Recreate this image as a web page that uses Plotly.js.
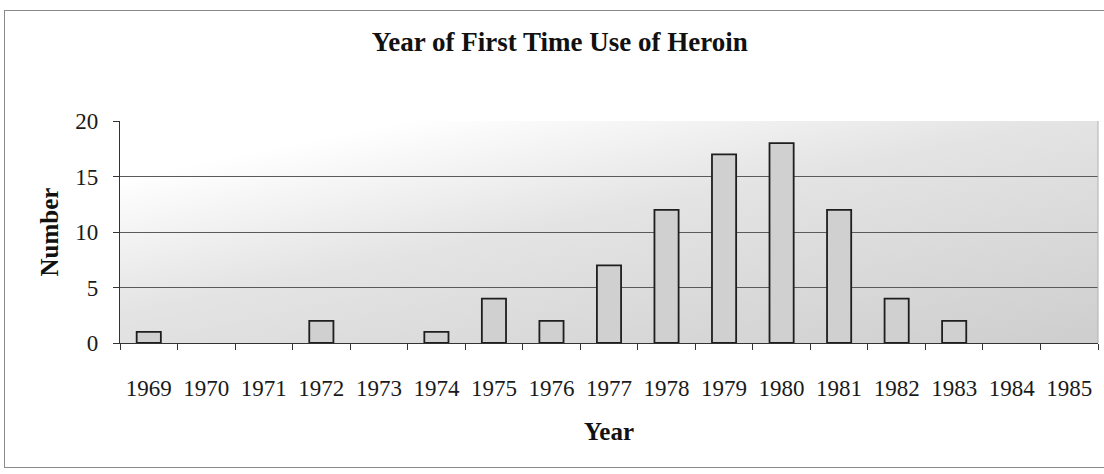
<!DOCTYPE html>
<html>
<head>
<meta charset="utf-8">
<script src="https://cdn.plot.ly/plotly-3.0.1.min.js"></script>
<style>
html,body{margin:0;padding:0;background:#fff;overflow:hidden;}
#wrap{position:relative;width:1104px;height:474px;overflow:hidden;}
#chart{width:1104px;height:474px;}
#frame{position:absolute;left:4px;top:10px;width:1200px;height:456px;border:1.5px solid #8a8a8a;pointer-events:none;}
</style>
</head>
<body>
<div id="wrap"><div id="chart"></div><div id="frame"></div></div>
<script>
const years = ["1969","1970","1971","1972","1973","1974","1975","1976","1977","1978","1979","1980","1981","1982","1983","1984","1985"];
const counts = [1, 0, 0, 2, 0, 1, 4, 2, 7, 12, 17, 18, 12, 4, 2, 0, 0];
const yTicks = [0, 5, 10, 15, 20];
const chartTitle = "Year of First Time Use of Heroin";
const xTitle = "Year";
const yTitle = "Number";

const bgSvg = '<svg xmlns="http://www.w3.org/2000/svg" width="400" height="100" preserveAspectRatio="none">' +
  '<defs><linearGradient id="g" x1="0.05" y1="0" x2="0.95" y2="1">' +
  '<stop offset="0.12" stop-color="#ffffff"/>' +
  '<stop offset="0.45" stop-color="#e4e4e4"/>' +
  '<stop offset="1" stop-color="#cfcfcf"/>' +
  '</linearGradient></defs><rect width="400" height="100" fill="url(#g)"/></svg>';
const bgUri = 'data:image/svg+xml;base64,' + btoa(bgSvg);

const serif = '"Liberation Serif", "Times New Roman", serif';

const data = [{
  type: 'bar',
  x: years,
  y: counts,
  marker: {color: '#d0d0d0', line: {color: '#1e1e1e', width: counts.map(v => v > 0 ? 1.8 : 0)}},
  hoverinfo: 'x+y'
}];

const layout = {
  width: 1104, height: 474,
  margin: {l: 120, r: 6, t: 121, b: 131},
  paper_bgcolor: 'rgba(0,0,0,0)',
  plot_bgcolor: 'rgba(0,0,0,0)',
  bargap: 0.58,
  showlegend: false,
  font: {family: serif, color: '#1a1a1a'},
  title: {text: '<b>' + chartTitle + '</b>', x: 0.507, xanchor: 'center', y: 0.912, yanchor: 'middle',
          font: {family: serif, size: 27, color: '#111'}},
  xaxis: {
    type: 'category',
    tickson: 'boundaries',
    ticks: 'outside', ticklen: 6, tickcolor: '#333', tickwidth: 1,
    showline: true, linecolor: '#333', linewidth: 1.2,
    showgrid: false,
    tickfont: {family: serif, size: 23, color: '#1a1a1a'},
    ticklabelstandoff: 24,
    title: {text: '<b>' + xTitle + '</b>', font: {family: serif, size: 25, color: '#111'}, standoff: 22},
    fixedrange: true
  },
  yaxis: {
    range: [0, 20],
    tickvals: yTicks,
    ticktext: yTicks.map(String),
    ticks: 'outside', ticklen: 6, tickcolor: '#333', tickwidth: 1,
    showline: true, linecolor: '#333', linewidth: 1.2,
    showgrid: true, gridcolor: '#5a5a5a', gridwidth: 1,
    zeroline: false,
    tickfont: {family: serif, size: 23, color: '#1a1a1a'},
    ticklabelstandoff: 10,
    title: {text: '<b>' + yTitle + '</b>', font: {family: serif, size: 25, color: '#111'}, standoff: 9},
    fixedrange: true
  },
  images: [{
    source: bgUri, xref: 'paper', yref: 'paper', x: 0, y: 1, sizex: 1, sizey: 1,
    xanchor: 'left', yanchor: 'top', sizing: 'stretch', layer: 'below'
  }],
  shapes: [{
    type: 'line', xref: 'paper', yref: 'paper', x0: 1, x1: 1, y0: 0, y1: 1,
    line: {color: '#b0b0b0', width: 1}
  }]
};

Plotly.newPlot('chart', data, layout, {displayModeBar: false, staticPlot: true});
</script>
</body>
</html>
